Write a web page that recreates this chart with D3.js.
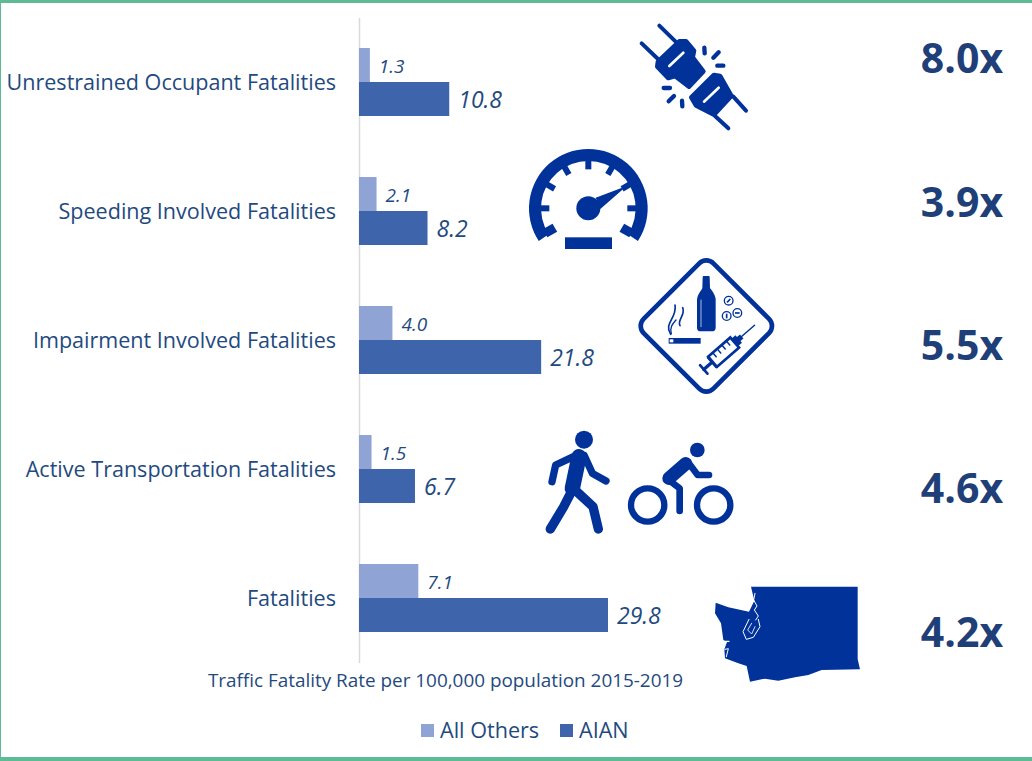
<!DOCTYPE html>
<html><head><meta charset="utf-8">
<script src="https://cdnjs.cloudflare.com/ajax/libs/d3/7.8.5/d3.min.js"></script>
<style>html,body{margin:0;padding:0;background:#fff}svg{display:block}text{font-family:"Open Sans","Noto Sans",sans-serif}</style>
</head><body><svg id="c" width="1032" height="761"></svg>
<script>
const categories=["Unrestrained Occupant Fatalities","Speeding Involved Fatalities","Impairment Involved Fatalities","Active Transportation Fatalities","Fatalities"];
const allOthers=[1.3,2.1,4.0,1.5,7.1];
const aian=[10.8,8.2,21.8,6.7,29.8];
const multipliers=["8.0x","3.9x","5.5x","4.6x","4.2x"];
const seriesNames=["All Others","AIAN"];
const axisTitle="Traffic Fatality Rate per 100,000 population 2015-2019";
const cLight="#8FA3D5",cDark="#3E65AC",cText="#1F4A80",cIcon="#00329A",cGreen="#5DBB95",cBold="#1F3F78";

const svg=d3.select("#c");
svg.append("rect").attr("x",0).attr("y",0).attr("width",1032).attr("height",3).attr("fill",cGreen);
svg.append("rect").attr("x",0).attr("y",757).attr("width",1032).attr("height",4).attr("fill",cGreen);
svg.append("rect").attr("x",0).attr("y",0).attr("width",1).attr("height",761).attr("fill",cGreen);

const x=d3.scaleLinear().domain([0,29.8]).range([359,608]);
const y=d3.scaleBand().domain(categories).range([17.5,662.5]);
const inner=d3.scaleBand().domain(seriesNames).range([0,68]);
const pad=(y.bandwidth()-68)/2;

const yAxis=d3.axisLeft(y).tickSize(0).tickPadding(23);
const ag=svg.append("g").attr("transform","translate(359,0)").call(yAxis);
ag.select(".domain").attr("stroke","#D9D9D9").attr("stroke-width",1.5);
ag.selectAll("text").attr("fill",cText).style("font-size","21.55px").attr("dy","0.36em");

[[allOthers,cLight,seriesNames[0],19,9],[aian,cDark,seriesNames[1],23,9]].forEach(([vals,col,name,fs,off])=>{
  const g=svg.append("g");
  const top=i=>y(categories[i])+pad+inner(name);
  g.selectAll("rect").data(vals).join("rect")
    .attr("x",x(0)).attr("y",(d,i)=>top(i)).attr("width",d=>x(d)-x(0)).attr("height",inner.bandwidth()).attr("fill",col);
  g.selectAll("text").data(vals).join("text")
    .attr("x",d=>x(d)+off).attr("y",(d,i)=>top(i)+inner.bandwidth()/2+1).attr("dy","0.36em")
    .attr("fill",cText).style("font-size",fs+"px").style("font-style","italic").text(d=>d.toFixed(1));
});

const multY=[58,202,345,488,632];
svg.append("g").selectAll("text").data(multipliers).join("text")
  .attr("x",962).attr("y",(d,i)=>multY[i]).attr("dy","0.36em").attr("text-anchor","middle")
  .attr("fill",cBold).style("font-size","41px").style("font-weight",700).text(d=>d);

svg.append("text").attr("x",445.5).attr("y",680).attr("dy","0.35em").attr("text-anchor","middle")
  .attr("fill",cText).style("font-size","18.9px").text(axisTitle);

const lg=svg.append("g");
[[421,seriesNames[0],cLight],[560,seriesNames[1],cDark]].forEach(([lx,n,col])=>{
  lg.append("rect").attr("x",lx).attr("y",724).attr("width",13).attr("height",13).attr("fill",col);
  lg.append("text").attr("x",lx+19).attr("y",730.5).attr("dy","0.36em").attr("fill",cText).style("font-size","21.6px").text(n);
});

// decorative icons, drawn in the coordinates of a 3x crop
function icon(tx,ty){return svg.append("g").attr("transform",`translate(${tx},${ty}) scale(${1/3})`);}
function lines(g,arr,w,col){arr.forEach(a=>g.append("line").attr("x1",a[0]).attr("y1",a[1]).attr("x2",a[2]).attr("y2",a[3]).attr("stroke",col||cIcon).attr("stroke-width",w).attr("stroke-linecap","round"));}
function poly(g,d,col,w){return g.append("path").attr("d",d).attr("fill",col||cIcon).attr("stroke",col||cIcon).attr("stroke-width",w||6).attr("stroke-linejoin","round");}
function stroke(g,d,w,col){return g.append("path").attr("d",d).attr("fill","none").attr("stroke",col||cIcon).attr("stroke-width",w).attr("stroke-linecap","round").attr("stroke-linejoin","round");}

// seatbelt
const s=icon(620,10);
lines(s,[[118,47,170,98],[65,100,117,150],[340,260,378,302],[285,318,325,355]],12);
poly(s,"M178,94 L198,94 L222,122 L218,142 L250,184 L207,230 L165,198 L145,204 L112,170 L114,155Z",cIcon,14);
poly(s,"M282,195 L300,198 L334,258 L282,314 L228,286 L214,262 Z",cIcon,14);
lines(s,[[148,168,190,128],[252,275,296,233]],8,"#fff");
lines(s,[[253,113,254,130],[280,143,296,127],[292,167,310,167],[131,234,150,234],[146,274,162,258],[186,272,187,289]],13);

// speedometer
const spRoot=icon(520,140);
const sp=spRoot.append("g").attr("transform","translate(205,205)");
sp.append("path").attr("fill",cIcon).attr("d",d3.arc().innerRadius(142).outerRadius(178).startAngle(-Math.PI*0.685).endAngle(Math.PI*0.685)());
[-90,-60,-30,0,30,60,90].forEach(a=>{
  sp.append("rect").attr("x",-9).attr("y",-145).attr("width",18).attr("height",28).attr("fill",cIcon).attr("transform",`rotate(${a})`);
});
[-120,120].forEach(a=>{
  sp.append("rect").attr("x",-14).attr("y",-150).attr("width",28).attr("height",34).attr("fill",cIcon).attr("transform",`rotate(${a})`);
});
sp.append("circle").attr("r",36).attr("fill",cIcon);
sp.append("path").attr("d","M22,-32 L115,-67 L36,2Z").attr("fill",cIcon);
sp.append("rect").attr("x",-70).attr("y",87).attr("width",141).attr("height",35).attr("fill",cIcon);

// impairment
const im=icon(630,255);
im.append("rect").attr("x",-148).attr("y",-148).attr("width",296).attr("height",296).attr("rx",30)
  .attr("fill","#fff").attr("stroke",cIcon).attr("stroke-width",14).attr("transform","translate(229,213) rotate(45)");
poly(im,"M221,66 L236,66 L237,100 C246,112 254,120 254,135 L254,218 C254,224 250,226 245,226 L212,226 C207,226 204,224 204,218 L204,135 C204,120 214,112 220,100Z");
lines(im,[[213,135,213,215]],2,"#fff");
im.append("rect").attr("x",116).attr("y",249).attr("width",96).attr("height",17).attr("fill",cIcon);
im.append("rect").attr("x",119).attr("y",253).attr("width",11).attr("height",9).attr("fill","#fff");
stroke(im,"M122,238 C100,205 142,190 135,150",5);
stroke(im,"M150,212 C140,195 168,180 158,158",5);
stroke(im,"M124,236 C118,215 130,205 138,195",4);
[[296,137,-45],[290,183,90],[322,174,0]].forEach(([cx,cy,a])=>{
  im.append("circle").attr("cx",cx).attr("cy",cy).attr("r",13).attr("fill","#fff").attr("stroke",cIcon).attr("stroke-width",4);
  im.append("rect").attr("x",cx-7).attr("y",cy-2.5).attr("width",14).attr("height",5).attr("fill",cIcon).attr("transform",`rotate(${a} ${cx} ${cy})`);
});
const syr=im.append("g").attr("transform","translate(225,340) rotate(-41)");
lines(syr,[[-5,-17,-5,17]],8);
lines(syr,[[-5,0,30,0]],10);
lines(syr,[[28,-18,28,18]],8);
syr.append("rect").attr("x",30).attr("y",-20).attr("width",88).attr("height",40).attr("fill","#fff").attr("stroke",cIcon).attr("stroke-width",8);
lines(syr,[[48,-20,48,-4],[66,-20,66,-4],[84,-20,84,-4],[102,-20,102,-4]],4.5);
syr.append("path").attr("d","M118,-15 L134,-15 L134,-8 L146,-8 L146,8 L134,8 L134,15 L118,15Z").attr("fill",cIcon);
lines(syr,[[142,0,197,0]],4.5);

// pedestrian and cyclist
const pb=icon(535,425);
pb.append("circle").attr("cx",147).attr("cy",44).attr("r",27).attr("fill",cIcon);
stroke(pb,"M130,88 L62,120 L51,170",22);
stroke(pb,"M148,92 L172,145 L213,168",22);
stroke(pb,"M132,95 L112,190",46);
stroke(pb,"M112,195 L85,247 L46,312",28);
stroke(pb,"M120,195 L174,245 L190,312",28);
pb.append("circle").attr("cx",487).attr("cy",75).attr("r",22).attr("fill",cIcon);
[338,536].forEach(cx=>pb.append("circle").attr("cx",cx).attr("cy",240).attr("r",50).attr("fill","none").attr("stroke",cIcon).attr("stroke-width",19));
stroke(pb,"M452,116 L402,160",40);
stroke(pb,"M458,110 L488,150 L522,150",20);
stroke(pb,"M395,160 L434,190 L434,258",20);

// Washington state
const wa=icon(705,580);
wa.append("path").attr("fill",cIcon).attr("d","M138,20 L458,20 L458,238 L465,268 L350,270 L310,285 L270,292 L220,302 L180,296 L135,305 L125,258 L100,250 L60,235 L58,208 L66,186 L55,180 L48,130 L30,100 L32,68 L70,82 L132,95 L148,62Z");
stroke(wa,"M115,45 L128,50 L122,60 L140,62 L132,72",3,"#fff");
stroke(wa,"M150,40 L146,60 L156,78 L148,90 L160,108 L152,120",3,"#fff");
stroke(wa,"M132,118 L114,155 L124,178 L145,172 L165,140 L160,118",3,"#fff");
stroke(wa,"M140,130 L128,150 L140,162 L150,140",2.5,"#fff");
stroke(wa,"M58,184 L72,184",4,"#fff");
stroke(wa,"M60,208 L70,206 L64,230",3,"#fff");
</script></body></html>
